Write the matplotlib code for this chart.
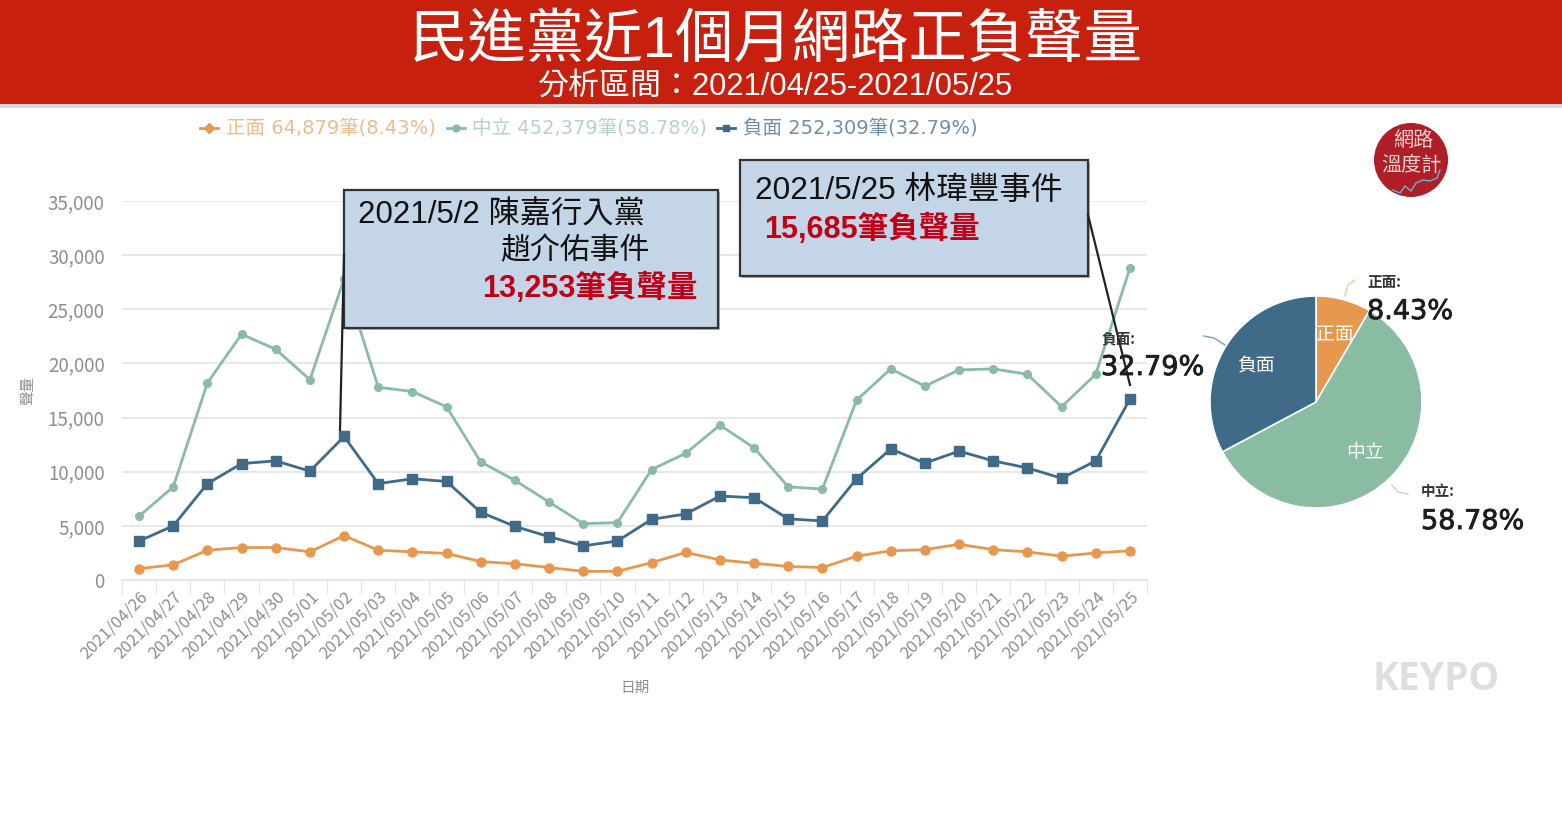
import matplotlib
matplotlib.use("Agg")
import matplotlib.pyplot as plt
import matplotlib.patheffects as pe
from matplotlib.patches import Rectangle, Circle
from matplotlib.ticker import FuncFormatter, FixedLocator

plt.rcParams["font.family"] = ["Noto Sans CJK TC", "DejaVu Sans"]

WIDTH = 1562
HEIGHT = 824
SLIDE_FONT = ["Liberation Sans", "Noto Sans CJK TC"]
CHART_FONT = ["DejaVu Sans", "Noto Sans CJK TC"]

dates = [
    "2021/04/26", "2021/04/27", "2021/04/28", "2021/04/29", "2021/04/30",
    "2021/05/01", "2021/05/02", "2021/05/03", "2021/05/04", "2021/05/05",
    "2021/05/06", "2021/05/07", "2021/05/08", "2021/05/09", "2021/05/10",
    "2021/05/11", "2021/05/12", "2021/05/13", "2021/05/14", "2021/05/15",
    "2021/05/16", "2021/05/17", "2021/05/18", "2021/05/19", "2021/05/20",
    "2021/05/21", "2021/05/22", "2021/05/23", "2021/05/24", "2021/05/25",
]
positive = [1050, 1400, 2750, 3000, 3000, 2600, 4100, 2750, 2600, 2450,
            1700, 1500, 1150, 800, 800, 1600, 2550, 1850, 1550, 1250,
            1150, 2200, 2700, 2800, 3300, 2800, 2600, 2200, 2500, 2700]
neutral = [5900, 8600, 18200, 22700, 21300, 18500, 27800, 17800, 17400, 16000,
           10900, 9200, 7200, 5200, 5300, 10200, 11700, 14300, 12200, 8600,
           8400, 16600, 19500, 17900, 19400, 19500, 19000, 16000, 19000, 28800]
negative = [3600, 5000, 8900, 10750, 11000, 10050, 13253, 8900, 9350, 9100,
            6250, 4950, 4000, 3150, 3600, 5600, 6100, 7750, 7600, 5650,
            5450, 9350, 12100, 10800, 11900, 11000, 10350, 9400, 11000, 16700]
y_ticks = [0, 5000, 10000, 15000, 20000, 25000, 30000, 35000]

pie_labels = ["正面", "中立", "負面"]
pie_shares = [8.43, 58.78, 32.79]

ORANGE = "#E8984E"
GREEN = "#8ABBA3"
BLUE = "#3F6A88"
GREY = "#8E8E8E"
RED = "#C00015"
BOX = "#C5D5E8"


def axes_px(left, top, right, bottom, **kwargs):
    return fig.add_axes([left / WIDTH, 1 - bottom / HEIGHT,
                         (right - left) / WIDTH, (bottom - top) / HEIGHT], **kwargs)


fig = plt.figure(figsize=(WIDTH / 100, HEIGHT / 100), dpi=100, facecolor="white")

# header band, behind everything
back = axes_px(0, 0, WIDTH, HEIGHT, zorder=0)
back.set_xlim(0, WIDTH)
back.set_ylim(HEIGHT, 0)
back.axis("off")
back.add_patch(Rectangle((0, 104), WIDTH, 4, color="#DDD8D6", lw=0))
back.add_patch(Rectangle((0, 0), WIDTH, 104, color="#C8200F", lw=0))
back.text(776, 41, "民進黨近1個月網路正負聲量", color="white", fontsize=42,
          family=SLIDE_FONT, ha="center", va="center")
back.text(775, 87, "分析區間：2021/04/25-2021/05/25", color="white", fontsize=22.3,
          family=SLIDE_FONT, ha="center", va="center")

# legend row
legend_items = [
    (209, 226, "正面 64,879筆(8.43%)", ORANGE, "#EDBB8E", "D"),
    (456, 472, "中立 452,379筆(58.78%)", GREEN, "#B5D3C4", "o"),
    (726, 743, "負面 252,309筆(32.79%)", BLUE, "#6F8FA6", "s"),
]
for mark_x, text_x, label, color, text_color, marker in legend_items:
    back.plot([mark_x - 9, mark_x + 9], [128, 128], color=color, lw=2)
    back.plot([mark_x], [128], marker=marker, ms=5, color=color)
    back.text(text_x, 128, label, color=text_color, fontsize=14, va="center",
              family=CHART_FONT)

back.text(1372, 680, "KEYPO", color="#DEDEDE", fontsize=28, fontweight="bold",
          family=["Open Sans"], va="center")

# line chart
ax = axes_px(122, 201, 1147, 580, zorder=1)
ax.patch.set_alpha(0)
x = list(range(len(dates)))
ax.plot(x, neutral, color=GREEN, lw=2, marker="o", ms=5.5, clip_on=False, zorder=3)
ax.plot(x, positive, color=ORANGE, lw=2, marker="o", ms=6.5, clip_on=False, zorder=3)
ax.plot(x, negative, color=BLUE, lw=2, marker="s", ms=6.5, clip_on=False, zorder=4)
ax.set_xlim(-0.5, len(dates) - 0.5)
ax.set_ylim(0, 35000)
ax.set_yticks(y_ticks)
ax.yaxis.set_major_formatter(FuncFormatter(lambda v, _: f"{int(v):,}"))
ax.set_xticks(x)
ax.set_xticklabels(dates, rotation=45, ha="right", rotation_mode="anchor",
                   fontsize=12, color=GREY)
ax.xaxis.set_minor_locator(FixedLocator([i - 0.5 for i in range(len(dates) + 1)]))
ax.tick_params(axis="x", which="major", length=0, pad=6)
ax.tick_params(axis="x", which="minor", length=10, color="#E3E6EC", width=1)
ax.tick_params(axis="y", length=0, labelsize=13.5, labelcolor=GREY, pad=12.5)
ax.grid(axis="y", color="#E8E8E8", lw=1.5)
ax.set_axisbelow(True)
for name in ["top", "right", "left"]:
    ax.spines[name].set_visible(False)
ax.spines["bottom"].set_color("#E3E6EC")
ax.spines["bottom"].set_linewidth(1.5)

# pie
pie_ax = axes_px(1210, 296, 1422, 508, zorder=2)
wedges, texts = pie_ax.pie(pie_shares, labels=pie_labels, colors=[ORANGE, GREEN, BLUE],
                           startangle=90, counterclock=False, radius=1,
                           labeldistance=0.66,
                           wedgeprops={"edgecolor": "white", "linewidth": 1.2},
                           textprops={"color": "white", "fontsize": 13.5,
                                      "fontweight": "medium"})
for t in texts:
    t.set_ha("center")
    t.set_va("center")
pie_ax.set_xlim(-1, 1)
pie_ax.set_ylim(-1, 1)

# callouts, logo and pie labels on top
front = axes_px(0, 0, WIDTH, HEIGHT, zorder=3)
front.set_xlim(0, WIDTH)
front.set_ylim(HEIGHT, 0)
front.axis("off")
front.patch.set_alpha(0)

front.add_patch(Rectangle((346, 192), 374, 138, color="#B5B5B5", lw=0, zorder=1))
front.add_patch(Rectangle((344, 190), 374, 138, facecolor=BOX, edgecolor="#333333",
                          lw=1.6, zorder=2))
front.plot([344, 340], [255, 430], color="#222222", lw=1.6, zorder=3)
front.text(358, 216, "2021/5/2 陳嘉行入黨", color="#111111", fontsize=22.5,
           family=SLIDE_FONT, va="center", zorder=4)
front.text(650, 251, "趙介佑事件", color="#111111", fontsize=21.5, ha="right",
           family=SLIDE_FONT, va="center", zorder=4)
front.text(697, 288, "13,253筆負聲量", color=RED, fontsize=22, fontweight="bold",
           family=SLIDE_FONT, ha="right", va="center", zorder=4)

front.add_patch(Rectangle((742, 162), 348, 116, color="#B5B5B5", lw=0, zorder=1))
front.add_patch(Rectangle((740, 160), 348, 116, facecolor=BOX, edgecolor="#333333",
                          lw=1.6, zorder=2))
front.plot([1088, 1130], [215, 385], color="#222222", lw=1.6, zorder=3)
front.text(755, 191, "2021/5/25 林瑋豐事件", color="#111111", fontsize=22.8,
           family=SLIDE_FONT, va="center", zorder=4)
front.text(764, 229, "15,685筆負聲量", color=RED, fontsize=22, fontweight="bold",
           family=SLIDE_FONT, va="center", zorder=4)

front.add_patch(Circle((1411, 160), 37, color="#B01E28", lw=0))
front.text(1413, 140, "網路", color="#F0D2D2", fontsize=14.5, ha="center", va="center")
front.text(1411, 165, "溫度計", color="#F0D2D2", fontsize=14.5, ha="center", va="center")
front.plot([1393, 1400, 1405, 1411, 1416, 1423, 1430, 1437, 1440],
           [190, 193, 186, 191, 183, 180, 181, 178, 170], color="#5FB4DC", lw=1)

front.plot([1345, 1348, 1355], [296, 285, 280], color="#F0C8A0", lw=1)
front.plot([1204, 1214, 1225], [336, 338, 345], color="#7F9BB0", lw=1)
front.plot([1392, 1398, 1408], [485, 492, 494], color="#BFD8CB", lw=1)

pie_notes = [
    (1367, 282, "正面:", 1367, 312, "8.43%"),
    (1101, 338, "負面:", 1101, 368, "32.79%"),
    (1421, 491, "中立:", 1421, 522, "58.78%"),
]
for lx, ly, label, vx, vy, value in pie_notes:
    front.text(lx, ly, label, color="#333333", fontsize=10.5, fontweight="bold",
               va="center", zorder=5)
    front.text(vx, vy, value, color="#1E1E1E", fontsize=19.5, va="center",
               family=["DejaVu Sans"], zorder=5,
               path_effects=[pe.withStroke(linewidth=0.6, foreground="#1E1E1E")])

front.text(28, 390, "聲量", color=GREY, fontsize=10.5, rotation=90, ha="center", va="center")
front.text(635, 688, "日期", color=GREY, fontsize=10.5, ha="center", va="center")

fig.savefig("out.png", dpi=100)
plt.close(fig)
